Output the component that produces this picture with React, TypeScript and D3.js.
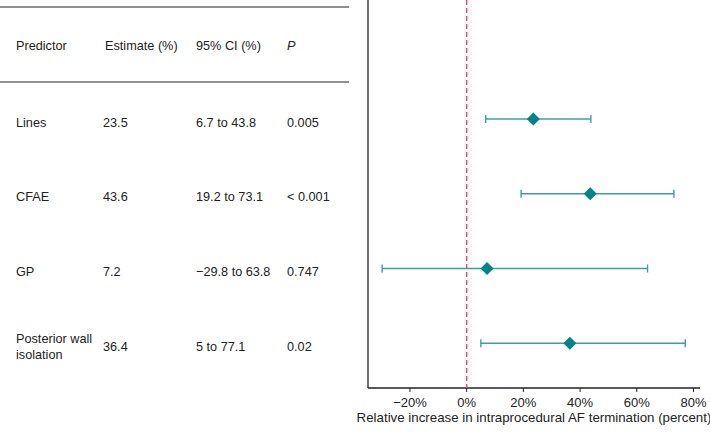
import React from "react";
import * as d3 from "d3";

const predictors = ["Lines", "CFAE", "GP", "Posterior wall isolation"];
const predictorLines = [["Lines"], ["CFAE"], ["GP"], ["Posterior wall", "isolation"]];
const estimates = [23.5, 43.6, 7.2, 36.4];
const ciLow = [6.7, 19.2, -29.8, 5];
const ciHigh = [43.8, 73.1, 63.8, 77.1];
const ciText = ["6.7 to 43.8", "19.2 to 73.1", "\u221229.8 to 63.8", "5 to 77.1"];
const pText = ["0.005", "< 0.001", "0.747", "0.02"];
const headers = ["Predictor", "Estimate (%)", "95% CI (%)", "P"];
const xTicks = [-20, 0, 20, 40, 60, 80];

const W = 710;
const H = 433;
const FONT = "'Liberation Sans', Arial, Helvetica, sans-serif";
const FS = 12.7;

export default function App() {
  const x = d3.scaleLinear().domain([-34.8, 82.3]).range([368, 700]);
  const y = d3.scalePoint<string>().domain(predictors).range([119, 343.3]);
  const axisY = 388;
  const colX = [16, 105, 196, 287];
  const teal = "#00838a";
  const tealLine = "#3c9ea4";
  const fmt = (v: number) => (v < 0 ? "\u2212" + Math.abs(v) : String(v)) + "%";

  return (
    <svg width={W} height={H} style={{ position: "absolute", left: 0, top: 0, background: "#fff" }} fontFamily={FONT}>
      {/* table rules */}
      <line x1={0} x2={349} y1={7} y2={7} stroke="#222" strokeWidth={1.2} />
      <line x1={0} x2={349} y1={82} y2={82} stroke="#222" strokeWidth={1.2} />
      {headers.map((h, i) => (
        <text key={h} x={colX[i]} y={49.5} fontSize={FS} fill="#222" fontStyle={i === 3 ? "italic" : "normal"}>
          {h}
        </text>
      ))}
      {predictors.map((p, i) => {
        const cy = (y(p) as number) + 3;
        const lines = predictorLines[i];
        return (
          <g key={p} fontSize={FS} fill="#222">
            {lines.map((l, j) => (
              <text key={l} x={colX[0]} y={cy + 4.5 + (j - (lines.length - 1) / 2) * 16}>
                {l}
              </text>
            ))}
            <text x={colX[1] - 2} y={cy + 4.5}>{estimates[i]}</text>
            <text x={colX[2]} y={cy + 4.5}>{ciText[i]}</text>
            <text x={colX[3]} y={cy + 4.5}>{pText[i]}</text>
          </g>
        );
      })}

      {/* axes */}
      <line x1={368} x2={368} y1={0} y2={axisY} stroke="#222" strokeWidth={1.3} />
      <line x1={368} x2={700} y1={axisY} y2={axisY} stroke="#222" strokeWidth={1.3} />
      {xTicks.map((t) => (
        <g key={t}>
          <line x1={x(t)} x2={x(t)} y1={axisY} y2={axisY + 4} stroke="#222" strokeWidth={1} />
          <text x={x(t)} y={axisY + 19} fontSize={13} textAnchor="middle" fill="#222">
            {fmt(t)}
          </text>
        </g>
      ))}
      <text x={534} y={axisY + 34} fontSize={13.3} textAnchor="middle" fill="#222">
        Relative increase in intraprocedural AF termination (percent)
      </text>

      {/* reference line */}
      <line x1={x(0)} x2={x(0)} y1={0} y2={axisY} stroke="#e05070" strokeWidth={1.5} strokeDasharray="5,3" />

      {/* CI bars and estimates */}
      {predictors.map((p, i) => {
        const cy = y(p) as number;
        const cx = x(estimates[i]);
        const r = 6.5;
        return (
          <g key={p}>
            <line x1={x(ciLow[i])} x2={x(ciHigh[i])} y1={cy} y2={cy} stroke={tealLine} strokeWidth={1.4} />
            <line x1={x(ciLow[i])} x2={x(ciLow[i])} y1={cy - 4} y2={cy + 4} stroke={tealLine} strokeWidth={1.4} />
            <line x1={x(ciHigh[i])} x2={x(ciHigh[i])} y1={cy - 4} y2={cy + 4} stroke={tealLine} strokeWidth={1.4} />
            <path d={`M${cx},${cy - r}L${cx + r},${cy}L${cx},${cy + r}L${cx - r},${cy}Z`} fill={teal} />
          </g>
        );
      })}
    </svg>
  );
}
